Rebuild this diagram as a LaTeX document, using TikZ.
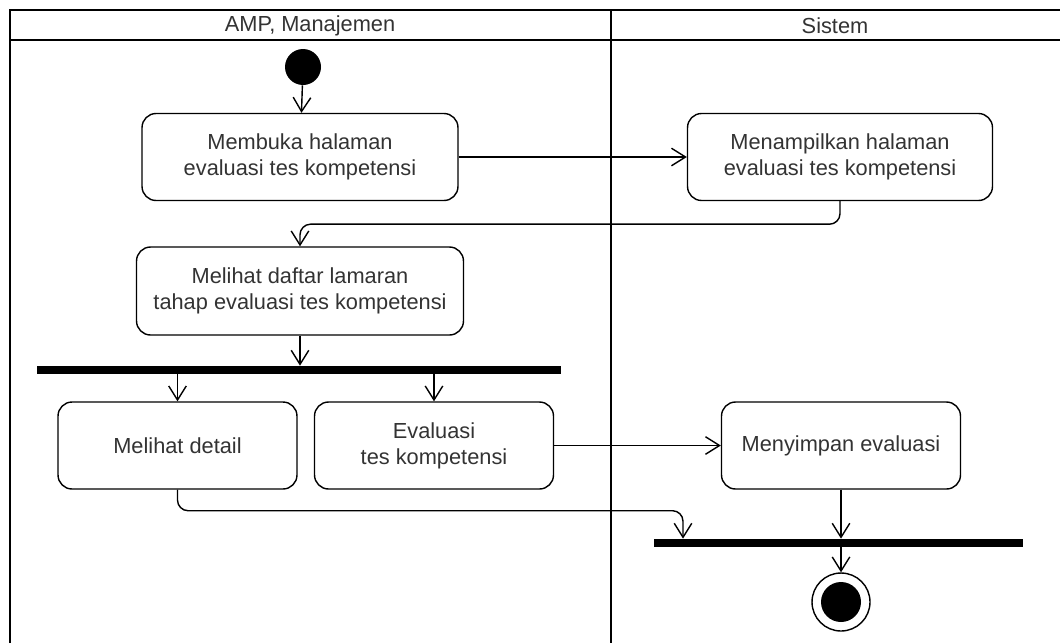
\documentclass[tikz,border=0pt]{standalone}
\usepackage{fontspec}
\setmainfont{Liberation Sans}
\usepackage{tikz}
\usetikzlibrary{arrows.meta,calc,positioning}
\definecolor{txt}{RGB}{51,51,51}
\tikzset{
  act/.style={draw, rounded corners=0.28cm, line width=0.8pt, align=center, text=txt, minimum height=1.74cm},
  bar/.style={fill=black, inner sep=0pt, minimum height=0.16cm},
  flow/.style={line width=0.8pt, -{Straight Barb[length=8pt,width=10pt]}},
  lane/.style={line width=1.5pt}
}

\begin{document}
\begin{tikzpicture}[x=0.02cm,y=-0.02cm,font=\fontsize{12.4}{14.7}\selectfont]
\useasboundingbox (0,0) rectangle (1060,643);
\draw[lane] (10,643) -- (10,10) -- (1060,10);
\draw[lane] (10,40) -- (1060,40);
\draw[lane] (611,10) -- (611,643);
\node[text=txt] (amp) at (310,26) {AMP, Manajemen};
\node[text=txt] (sistem) at (835,26) {Sistem};

\node[circle, fill, minimum size=0.72cm, inner sep=0pt] (mulai) at (303,67) {};
\node[act, minimum width=6.32cm] (buka) at (300,157) {Membuka halaman\\evaluasi tes kompetensi};
\node[act, minimum width=6.1cm] (tampil) at (840,157) {Menampilkan halaman\\evaluasi tes kompetensi};
\node[act, minimum width=6.54cm, minimum height=1.76cm] (daftar) at (300,291) {Melihat daftar lamaran\\tahap evaluasi tes kompetensi};
\node[bar, minimum width=10.48cm] (fork) at (299,370) {};
\node[act, minimum width=4.78cm] (detail) at (177.5,445.5) {Melihat detail};
\node[act, minimum width=4.78cm] (eval) at (434,445.5) {Evaluasi\\tes kompetensi};
\node[act, minimum width=4.78cm] (simpan) at (841,445.5) {Menyimpan evaluasi};
\node[bar, minimum width=7.38cm] (join) at (838.5,543) {};
\node[circle, draw, line width=0.8pt, minimum size=1.16cm, inner sep=0pt] (akhir) at (841,602) {};
\node[circle, fill, minimum size=0.8cm, inner sep=0pt] (akhirin) at (akhir) {};
\coordinate (masuk) at (683,0);

\draw[flow] (mulai) -- (buka);
\draw[flow] (buka) -- (tampil);
\draw[flow, rounded corners=6pt] (tampil.south) -- ++(0,23) -| (daftar.north);
\draw[flow] (daftar.south) -- (daftar.south |- fork.north);
\draw[flow] (fork.south -| detail.north) -- (detail);
\draw[flow] (fork.south -| eval.north) -- (eval);
\draw[flow] (eval) -- (simpan);
\draw[flow, rounded corners=6pt] (detail.south) -- ++(0,21) -| (join.north -| masuk);
\draw[flow] (simpan.south) -- (simpan.south |- join.north);
\draw[flow] (join.south -| akhir.north) -- (akhir);
\end{tikzpicture}
\end{document}
